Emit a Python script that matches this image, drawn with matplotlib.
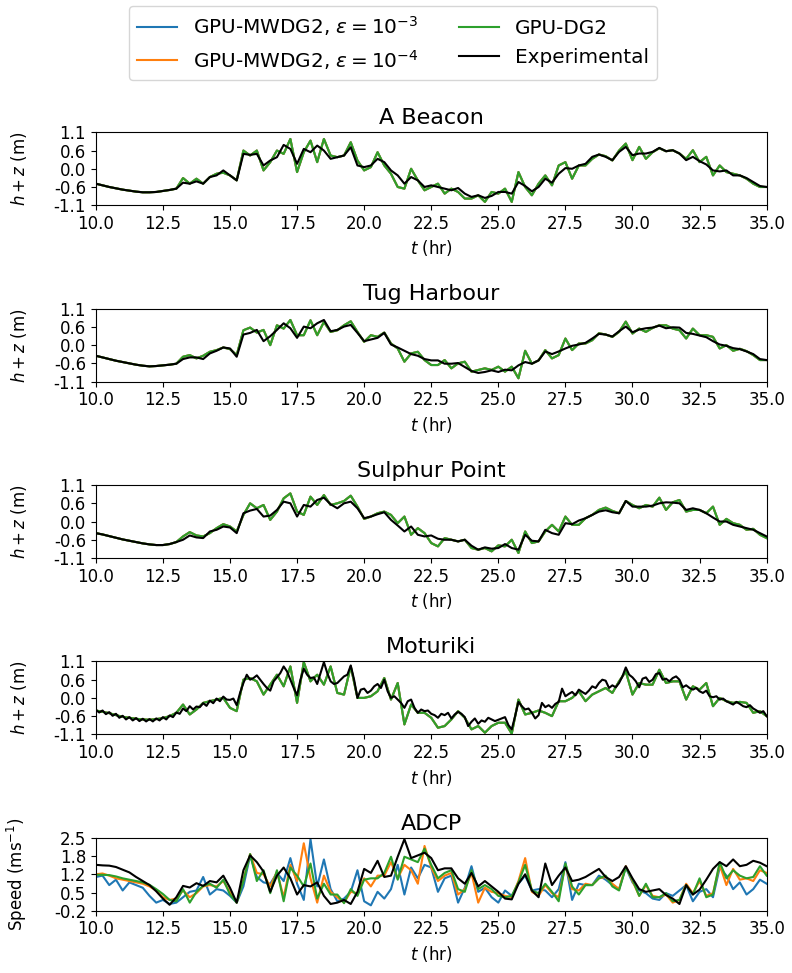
import numpy as np
import matplotlib
matplotlib.use("Agg")
import matplotlib.pyplot as plt

# =========================
# time axes (hr)
# =========================
t_model = np.linspace(10, 35, 101)   # model output every 0.25 hr
t_fine = np.linspace(10, 35, 201)    # Moturiki gauge record, 0.125 hr

series_labels = [r"GPU-MWDG2, $\varepsilon = 10^{-3}$",
                 r"GPU-MWDG2, $\varepsilon = 10^{-4}$",
                 "GPU-DG2", "Experimental"]
gauge_titles = ["A Beacon", "Tug Harbour", "Sulphur Point", "Moturiki", "ADCP"]

# =========================
# A Beacon, h + z (m)
# =========================
beacon_exp = [
    -0.45, -0.50, -0.55, -0.59,
    -0.63, -0.66, -0.69, -0.71,
    -0.71, -0.70, -0.67, -0.64,
    -0.60, -0.42, -0.45, -0.38,
    -0.45, -0.25, -0.20, -0.05,
    -0.20, -0.35, 0.45, 0.42,
    0.45, 0.10, 0.25, 0.35,
    0.72, 0.60, 0.15, 0.60,
    0.50, 0.70, 0.55, 0.30,
    0.35, 0.40, 0.65, 0.10,
    0.05, 0.10, 0.30, 0.20,
    -0.05, -0.20, -0.45, -0.25,
    -0.35, -0.55, -0.50, -0.55,
    -0.60, -0.65, -0.58, -0.75,
    -0.85, -0.80, -0.88, -0.82,
    -0.70, -0.70, -0.75, -0.40,
    -0.52, -0.68, -0.55, -0.30,
    -0.42, -0.15, 0.02, 0.00,
    0.10, 0.15, 0.36, 0.43,
    0.36, 0.26, 0.51, 0.66,
    0.41, 0.46, 0.46, 0.51,
    0.63, 0.53, 0.56, 0.46,
    0.26, 0.36, 0.23, 0.13,
    -0.05, -0.08, -0.05, -0.20,
    -0.20, -0.28, -0.40, -0.52,
    -0.55]
beacon_dg2 = [
    -0.45, -0.50, -0.55, -0.59,
    -0.63, -0.66, -0.69, -0.71,
    -0.71, -0.70, -0.67, -0.64,
    -0.60, -0.28, -0.45, -0.30,
    -0.45, -0.25, -0.15, -0.12,
    -0.20, -0.35, 0.55, 0.40,
    0.55, -0.05, 0.20, 0.55,
    0.45, 0.90, -0.10, 0.50,
    0.85, 0.20, 0.90, 0.40,
    0.35, 0.40, 0.80, 0.25,
    -0.05, 0.05, 0.50, 0.10,
    -0.15, -0.55, -0.60, 0.00,
    -0.35, -0.65, -0.55, -0.45,
    -0.75, -0.60, -0.70, -0.90,
    -0.90, -0.80, -1.00, -0.70,
    -0.75, -0.60, -1.00, -0.10,
    -0.55, -0.80, -0.45, -0.20,
    -0.50, 0.10, 0.20, -0.30,
    0.10, 0.10, 0.30, 0.43,
    0.38, 0.25, 0.55, 0.76,
    0.26, 0.66, 0.30, 0.50,
    0.62, 0.53, 0.56, 0.46,
    0.30, 0.56, 0.20, 0.36,
    -0.20, 0.10, -0.10, -0.15,
    -0.20, -0.30, -0.45, -0.55,
    -0.55]

# =========================
# Tug Harbour
# =========================
tug_exp = [
    -0.32, -0.37, -0.42, -0.47,
    -0.51, -0.55, -0.59, -0.62,
    -0.64, -0.63, -0.61, -0.59,
    -0.56, -0.42, -0.37, -0.37,
    -0.42, -0.25, -0.17, -0.07,
    -0.10, -0.35, 0.32, 0.37,
    0.46, 0.12, 0.27, 0.46,
    0.66, 0.51, 0.22, 0.56,
    0.51, 0.66, 0.76, 0.42,
    0.46, 0.56, 0.61, 0.37,
    0.12, 0.17, 0.22, 0.37,
    0.02, -0.07, -0.17, -0.27,
    -0.32, -0.42, -0.46, -0.46,
    -0.56, -0.56, -0.54, -0.66,
    -0.78, -0.84, -0.81, -0.76,
    -0.81, -0.74, -0.76, -0.61,
    -0.51, -0.56, -0.46, -0.19,
    -0.27, -0.19, -0.10, -0.02,
    0.02, 0.07, 0.20, 0.34,
    0.32, 0.26, 0.42, 0.56,
    0.39, 0.47, 0.51, 0.53,
    0.59, 0.51, 0.54, 0.53,
    0.37, 0.34, 0.29, 0.24,
    0.12, 0.02, -0.02, -0.09,
    -0.12, -0.19, -0.27, -0.42,
    -0.45]
tug_dg2 = [
    -0.32, -0.37, -0.42, -0.47,
    -0.51, -0.55, -0.59, -0.62,
    -0.64, -0.63, -0.61, -0.59,
    -0.56, -0.35, -0.30, -0.40,
    -0.32, -0.20, -0.15, -0.07,
    -0.12, -0.30, 0.45, 0.53,
    0.38, 0.46, 0.00, 0.60,
    0.50, 0.76, 0.30, 0.30,
    0.75, 0.30, 0.70, 0.40,
    0.45, 0.60, 0.72, 0.40,
    0.10, 0.30, 0.25, 0.38,
    0.05, -0.10, -0.50, -0.25,
    -0.20, -0.45, -0.60, -0.60,
    -0.45, -0.70, -0.55, -0.50,
    -0.80, -0.75, -0.70, -0.75,
    -0.65, -0.80, -0.65, -1.00,
    -0.17, -0.56, -0.46, -0.15,
    -0.40, -0.30, 0.20, -0.15,
    0.05, 0.05, 0.15, 0.36,
    0.32, 0.25, 0.40, 0.71,
    0.35, 0.50, 0.40, 0.52,
    0.60, 0.60, 0.50, 0.45,
    0.20, 0.50, 0.30, 0.30,
    0.25, -0.10, 0.00, -0.17,
    -0.11, -0.18, -0.30, -0.45,
    -0.45]

# =========================
# Sulphur Point
# =========================
sulphur_exp = [
    -0.35, -0.39, -0.44, -0.49,
    -0.54, -0.58, -0.62, -0.66,
    -0.69, -0.71, -0.71, -0.68,
    -0.62, -0.55, -0.42, -0.48,
    -0.50, -0.30, -0.25, -0.15,
    -0.18, -0.35, 0.25, 0.33,
    0.38, 0.15, 0.18, 0.35,
    0.60, 0.55, 0.15, 0.50,
    0.45, 0.65, 0.72, 0.52,
    0.40, 0.55, 0.60, 0.40,
    0.10, 0.15, 0.22, 0.28,
    0.05, -0.12, -0.30, -0.15,
    -0.40, -0.45, -0.42, -0.52,
    -0.55, -0.55, -0.60, -0.55,
    -0.73, -0.85, -0.78, -0.82,
    -0.80, -0.68, -0.80, -0.85,
    -0.40, -0.58, -0.60, -0.25,
    -0.35, -0.40, -0.05, -0.08,
    0.03, 0.10, 0.20, 0.30,
    0.34, 0.28, 0.25, 0.62,
    0.45, 0.45, 0.45, 0.48,
    0.55, 0.58, 0.57, 0.55,
    0.35, 0.40, 0.35, 0.25,
    0.12, 0.00, 0.00, -0.10,
    -0.15, -0.20, -0.25, -0.35,
    -0.45]
sulphur_dg2 = [
    -0.35, -0.39, -0.44, -0.49,
    -0.54, -0.58, -0.62, -0.66,
    -0.69, -0.71, -0.71, -0.68,
    -0.62, -0.45, -0.32, -0.42,
    -0.45, -0.35, -0.20, -0.08,
    -0.15, -0.30, 0.20, 0.55,
    0.40, 0.50, 0.05, 0.30,
    0.70, 0.85, 0.30, 0.20,
    0.75, 0.50, 0.80, 0.50,
    0.55, 0.62, 0.78, 0.45,
    0.08, 0.15, 0.25, 0.30,
    0.20, -0.05, 0.15, -0.40,
    -0.20, -0.35, -0.65, -0.75,
    -0.50, -0.55, -0.60, -0.55,
    -0.80, -0.85, -0.80, -0.90,
    -0.72, -0.75, -0.55, -0.95,
    -0.30, -0.65, -0.60, -0.30,
    -0.10, -0.30, 0.15, -0.10,
    -0.10, 0.10, 0.20, 0.35,
    0.42, 0.32, 0.25, 0.62,
    0.50, 0.40, 0.50, 0.45,
    0.72, 0.35, 0.58, 0.65,
    0.30, 0.35, 0.35, 0.25,
    0.45, -0.10, 0.08, -0.05,
    -0.10, -0.25, -0.22, -0.40,
    -0.50]

# =========================
# Moturiki (gauge sampled finer)
# =========================
moturiki_exp = [
    -0.36, -0.44, -0.38, -0.49, -0.43, -0.54, -0.48, -0.60,
    -0.54, -0.65, -0.58, -0.68, -0.61, -0.70, -0.63, -0.71,
    -0.64, -0.71, -0.62, -0.68, -0.58, -0.65, -0.53, -0.58,
    -0.44, -0.48, -0.32, -0.40, -0.25, -0.35, -0.26, -0.28,
    -0.16, -0.24, -0.08, -0.16, -0.02, -0.10, 0.04, -0.05,
    -0.06, -0.02, -0.22, 0.15, 0.45, 0.70, 0.55, 0.60,
    0.68, 0.55, 0.42, 0.30, 0.22, 0.50, 0.62, 0.75,
    0.95, 0.80, 0.55, 0.30, 0.08, 0.55, 0.88, 0.70,
    0.60, 0.62, 0.42, 0.75, 1.08, 0.75, 0.50, 0.42,
    0.45, 0.55, 0.65, 0.70, 0.98, 0.55, 0.00, 0.25,
    0.28, 0.15, 0.22, 0.35, 0.42, 0.30, 0.55, 0.20,
    0.00, 0.05, -0.05, -0.15, -0.30, -0.10, -0.05, -0.30,
    -0.45, -0.35, -0.40, -0.38, -0.48, -0.52, -0.60, -0.48,
    -0.52, -0.45, -0.62, -0.50, -0.42, -0.48, -0.58, -0.85,
    -0.72, -0.62, -0.78, -0.68, -0.72, -0.60, -0.65, -0.70,
    -0.66, -0.62, -0.58, -0.82, -0.95, -0.55, -0.12, -0.25,
    -0.35, -0.32, -0.45, -0.62, -0.52, -0.15, -0.28, -0.22,
    -0.30, -0.18, -0.12, 0.28, 0.05, 0.12, 0.18, 0.08,
    0.25, 0.18, 0.12, 0.22, 0.35, 0.30, 0.45, 0.55,
    0.52, 0.30, 0.38, 0.32, 0.45, 0.65, 0.92, 0.70,
    0.62, 0.50, 0.32, 0.58, 0.62, 0.48, 0.55, 0.72,
    0.75, 0.55, 0.58, 0.50, 0.60, 0.65, 0.55, 0.32,
    0.38, 0.30, 0.25, 0.30, 0.20, 0.15, 0.22, 0.05,
    0.02, 0.05, -0.05, -0.02, -0.10, -0.15, -0.20, -0.12,
    -0.18, -0.25, -0.28, -0.22, -0.32, -0.38, -0.45, -0.40,
    -0.55]
moturiki_dg2 = [
    -0.38, -0.42, -0.46, -0.52,
    -0.57, -0.60, -0.63, -0.65,
    -0.66, -0.64, -0.61, -0.55,
    -0.45, -0.20, -0.50, -0.35,
    -0.15, -0.10, -0.05, 0.00,
    -0.30, -0.40, 0.55, 0.60,
    0.50, 0.10, 0.40, 0.70,
    0.35, 0.95, -0.15, 1.08,
    0.50, 0.70, 0.40, 0.95,
    0.15, 0.10, 0.95, 0.00,
    0.00, 0.05, 0.20, 0.60,
    -0.05, 0.45, -0.80, -0.20,
    -0.45, -0.45, -0.60, -0.90,
    -0.85, -0.65, -0.40, -0.60,
    -0.95, -0.85, -1.05, -0.85,
    -0.75, -0.75, -1.08, -0.05,
    -0.50, -0.45, -0.38, -0.45,
    -0.55, -0.10, -0.10, 0.00,
    0.20, -0.10, 0.10, 0.20,
    0.30, 0.15, 0.50, 0.80,
    0.10, 0.45, 0.40, 0.40,
    0.85, 0.45, 0.50, 0.50,
    -0.05, 0.35, 0.25, 0.45,
    -0.25, 0.00, -0.10, -0.15,
    -0.12, -0.15, -0.45, -0.40,
    -0.55]

# =========================
# ADCP speed (m/s)
# =========================
adcp_exp = [
    1.50, 1.48, 1.47, 1.42,
    1.32, 1.22, 1.05, 0.90,
    0.75, 0.52, 0.25, 0.02,
    0.30, 0.72, 0.66, 0.82,
    0.72, 0.90, 0.85, 1.10,
    0.65, 0.10, 1.30, 1.85,
    1.60, 1.25, 0.50, 1.10,
    1.40, 1.00, 0.40, 0.75,
    0.70, 0.85, 0.35, 0.05,
    0.10, 0.20, 0.05, 0.50,
    1.35, 1.20, 1.65, 1.05,
    1.10, 1.80, 2.45, 1.75,
    1.85, 1.95, 1.75, 1.30,
    1.37, 1.37, 1.00, 0.80,
    1.20, 0.70, 0.90, 0.70,
    0.50, 0.25, 0.22, 0.80,
    1.15, 0.55, 0.30, 1.55,
    0.75, 1.10, 1.40, 0.90,
    0.95, 1.05, 1.20, 1.35,
    1.05, 0.90, 1.05, 1.45,
    1.00, 0.60, 0.50, 0.55,
    0.60, 0.38, 0.25, 0.05,
    0.75, 0.40, 0.58, 0.95,
    1.35, 1.60, 1.45, 1.70,
    1.45, 1.50, 1.65, 1.58,
    1.45]
adcp_dg2 = [
    1.13, 1.13, 1.12, 1.07,
    1.00, 0.95, 0.90, 0.85,
    0.76, 0.60, 0.42, 0.20,
    0.15, 0.60, 0.10, 0.50,
    0.72, 0.80, 0.65, 0.95,
    0.40, 0.10, 0.90, 1.90,
    0.90, 1.30, 0.45, 1.30,
    0.15, 1.40, 1.10, 0.70,
    1.55, 0.25, 0.80, 0.40,
    0.40, 0.08, 0.60, 0.35,
    0.95, 1.00, 1.00, 1.20,
    1.80, 0.95, 1.80, 1.70,
    1.60, 2.10, 1.50, 1.00,
    1.20, 1.30, 0.60, 0.50,
    1.30, 0.60, 0.75, 0.60,
    0.35, 0.30, 0.35, 0.85,
    1.50, 0.55, 0.45, 0.80,
    0.50, 0.15, 1.55, 0.70,
    0.40, 0.75, 0.75, 1.00,
    1.10, 0.70, 0.55, 1.40,
    0.95, 0.35, 0.80, 0.30,
    0.30, 0.45, 0.15, 0.20,
    0.75, 0.40, 1.00, 0.30,
    0.40, 1.60, 1.00, 1.30,
    1.10, 1.00, 1.05, 1.45,
    1.10]
adcp_mw4 = [
    1.15, 1.18, 1.10, 1.00,
    0.95, 0.90, 0.85, 0.80,
    0.70, 0.55, 0.30, 0.20,
    0.25, 0.55, 0.30, 0.45,
    0.70, 0.75, 0.70, 0.90,
    0.50, 0.10, 0.95, 1.90,
    1.20, 1.15, 0.70, 1.25,
    0.30, 1.50, 0.90, 2.30,
    1.00, 0.10, 1.10, 0.50,
    0.30, 0.10, 0.50, 0.45,
    1.00, 0.70, 1.10, 1.10,
    1.60, 1.00, 1.50, 1.30,
    0.80, 2.20, 1.40, 0.90,
    1.10, 1.20, 0.40, 0.60,
    1.20, 0.10, 0.65, 0.50,
    0.45, 0.35, 0.30, 0.90,
    1.75, 0.50, 0.35, 0.75,
    0.45, 0.30, 1.50, 0.60,
    0.55, 0.80, 0.75, 1.00,
    1.05, 0.80, 0.60, 1.45,
    0.90, 0.35, 0.75, 0.35,
    0.30, 0.40, 0.10, 0.20,
    0.80, 0.45, 0.90, 0.35,
    0.45, 1.50, 0.75, 1.35,
    0.95, 1.00, 0.90, 1.30,
    1.20]
adcp_mw3 = [
    1.05, 1.10, 0.75, 0.95,
    0.55, 0.85, 0.75, 0.65,
    0.35, 0.10, 0.20, 0.05,
    0.10, 0.30, 0.50, 0.55,
    1.05, 0.40, 0.60, 0.55,
    0.35, 0.10, 0.70, 1.85,
    1.05, 0.85, 0.80, 1.20,
    0.90, 1.75, 0.80, 0.20,
    2.45, 0.70, 1.70, 0.60,
    0.15, 0.25, 0.50, 1.30,
    0.15, 0.00, 0.50, 0.25,
    0.60, 1.50, 0.40, 1.40,
    1.00, 1.50, 1.40, 0.50,
    1.00, 1.10, 0.10, 0.65,
    1.45, 0.50, 0.65, 0.30,
    0.10, 0.55, 0.35, 0.80,
    1.10, 0.55, 0.60, 0.55,
    0.30, 0.60, 1.60, 0.20,
    0.80, 0.75, 0.75, 1.10,
    0.95, 0.75, 0.60, 1.40,
    0.85, 0.55, 0.45, 0.25,
    0.20, 0.45, 0.35, 0.55,
    0.75, 0.15, 0.50, 0.60,
    0.30, 1.40, 1.10, 0.60,
    0.85, 0.40, 0.60, 0.95,
    0.80]


def main():
    plt.rcParams["font.size"] = 12

    # MWDG2 runs sit on top of DG2 at the four tide gauges
    gauges = [
        (beacon_dg2, beacon_dg2, beacon_dg2, t_model, beacon_exp),
        (tug_dg2, tug_dg2, tug_dg2, t_model, tug_exp),
        (sulphur_dg2, sulphur_dg2, sulphur_dg2, t_model, sulphur_exp),
        (moturiki_dg2, moturiki_dg2, moturiki_dg2, t_fine, moturiki_exp),
        (adcp_mw3, adcp_mw4, adcp_dg2, t_model, adcp_exp),
    ]
    colors = ["#1f77b4", "#ff7f0e", "#2ca02c", "black"]

    fig, axes = plt.subplots(5, 1, figsize=(7.92, 9.73), dpi=100)
    fig.subplots_adjust(left=0.121, right=0.968, top=0.864, bottom=0.064, hspace=1.42)

    xticks = np.arange(10, 35.1, 2.5)
    for ax, title, (mw3, mw4, dg2, t_exp, exp) in zip(axes, gauge_titles, gauges):
        ax.plot(t_model, mw3, color=colors[0], label=series_labels[0])
        ax.plot(t_model, mw4, color=colors[1], label=series_labels[1])
        ax.plot(t_model, dg2, color=colors[2], label=series_labels[2])
        ax.plot(t_exp, exp, color=colors[3], label=series_labels[3])
        ax.set_title(title, fontsize=16)
        ax.set_xlim(10, 35)
        ax.set_xticks(xticks, labels=[f"{v:.1f}" for v in xticks])
        ax.set_xlabel(r"$t$ (hr)")
        if title == "ADCP":
            ax.set_ylim(-0.2, 2.5)
            ax.set_yticks(np.linspace(-0.2, 2.5, 5), labels=["-0.2", "0.5", "1.2", "1.8", "2.5"])
            ax.set_ylabel(r"Speed (ms$^{-1}$)")
        else:
            ax.set_ylim(-1.1, 1.1)
            ax.set_yticks(np.linspace(-1.1, 1.1, 5), labels=["-1.1", "-0.6", "0.0", "0.6", "1.1"])
            ax.set_ylabel(r"$h + z$ (m)")
        ax.yaxis.set_label_coords(-0.1, 0.5)

    handles, labels = axes[0].get_legend_handles_labels()
    fig.legend(handles, labels, loc="upper center", bbox_to_anchor=(0.496, 0.994),
               ncol=2, borderaxespad=0, fontsize=14.4)

    fig.savefig("out.png", dpi=100)


if __name__ == "__main__":
    main()
